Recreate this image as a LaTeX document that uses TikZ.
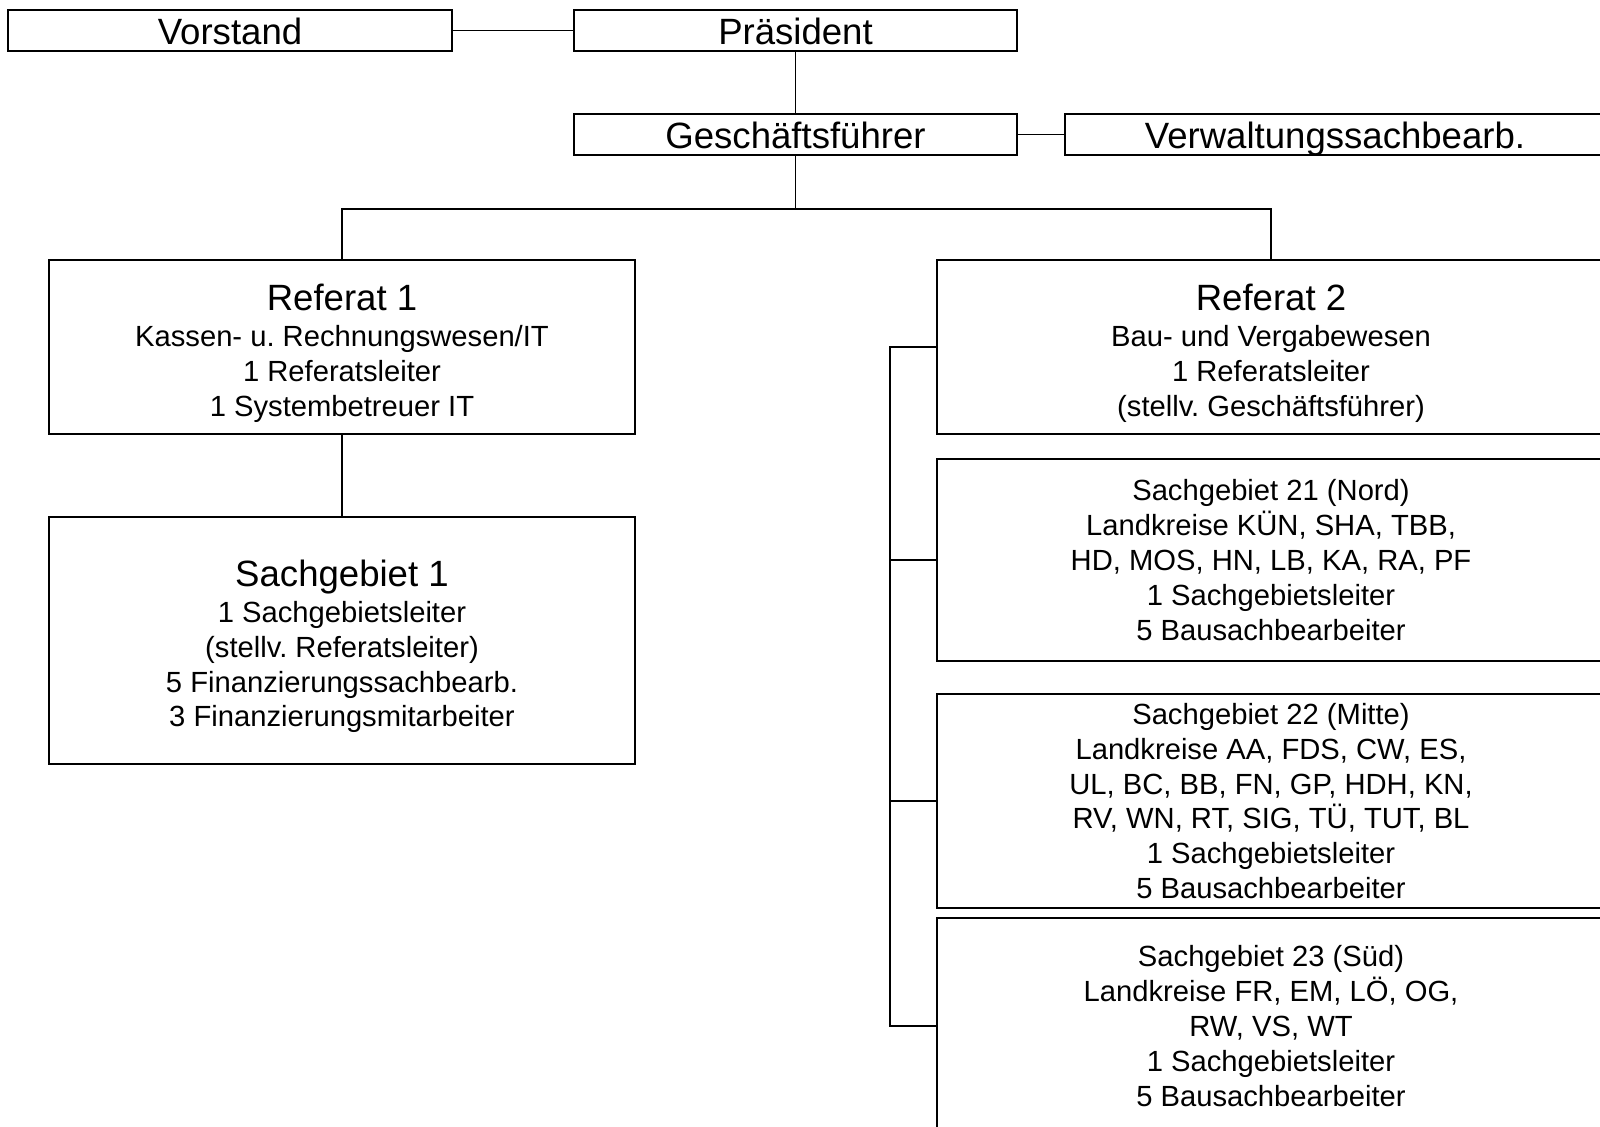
\documentclass[tikz,border=0pt]{standalone}
\usepackage{fontspec}
\setmainfont{Liberation Sans}
\frenchspacing

\begin{document}
\begin{tikzpicture}[x=0.01cm, y=-0.01cm,
        box/.style={draw, line width=0.6pt, inner sep=0pt, align=center,
            font=\fontsize{8.3pt}{9.9pt}\selectfont},
        topbox/.style={box, minimum height=0.41cm, text height=7.7pt, text depth=0pt,
            font=\fontsize{10.4pt}{12pt}\selectfont},
        link/.style={line width=0.4pt}]
    \useasboundingbox (0,0) rectangle (1600,1126);

    % Leitung
    \node[topbox, minimum width=4.44cm] (vorstand) at (230,30.5) {Vorstand};
    \node[topbox, minimum width=4.43cm] (praes) at (795.5,30.5) {Präsident};
    \node[topbox, minimum width=4.43cm] (gf) at (795.5,134.5) {Geschäftsführer};
    \node[topbox, minimum width=5.40cm] (verw) at (1335,134.5) {Verwaltungssachbearb.};

    % Referat 1
    \node[box, minimum width=5.86cm, minimum height=1.74cm] (ref1) at (342,347)
        {\rule{0pt}{11pt}{\fontsize{10.4pt}{12pt}\selectfont Referat 1}\\[0.3pt]
         Kassen- u. Rechnungswesen/IT\\
         1 Referatsleiter\\
         1 Systembetreuer IT};
    \node[box, minimum width=5.86cm, minimum height=2.47cm] (sg1) at (342,640.5)
        {\rule{0pt}{11pt}{\fontsize{10.4pt}{12pt}\selectfont Sachgebiet 1}\\[0.3pt]
         1 Sachgebietsleiter\\
         (stellv. Referatsleiter)\\
         5 Finanzierungssachbearb.\\
         3 Finanzierungsmitarbeiter};

    % Referat 2
    \node[box, minimum width=6.68cm, minimum height=1.74cm] (ref2) at (1271,347)
        {\rule{0pt}{11pt}{\fontsize{10.4pt}{12pt}\selectfont Referat 2}\\[0.3pt]
         Bau- und Vergabewesen\\
         1 Referatsleiter\\
         (stellv. Geschäftsführer)};
    \node[box, minimum width=6.68cm, minimum height=2.02cm] (sg21) at (1271,560)
        {Sachgebiet 21 (Nord)\\
         Landkreise KÜN, SHA, TBB,\\
         HD, MOS, HN, LB, KA, RA, PF\\
         1 Sachgebietsleiter\\
         5 Bausachbearbeiter};
    \node[box, minimum width=6.68cm, minimum height=2.14cm] (sg22) at (1271,801)
        {Sachgebiet 22 (Mitte)\\
         Landkreise AA, FDS, CW, ES,\\
         UL, BC, BB, FN, GP, HDH, KN,\\
         RV, WN, RT, SIG, TÜ, TUT, BL\\
         1 Sachgebietsleiter\\
         5 Bausachbearbeiter};
    \node[box, minimum width=6.68cm, minimum height=2.16cm] (sg23) at (1271,1026)
        {Sachgebiet 23 (Süd)\\
         Landkreise FR, EM, LÖ, OG,\\
         RW, VS, WT\\
         1 Sachgebietsleiter\\
         5 Bausachbearbeiter};

    % Verbindungen
    \coordinate (split) at (795.5,209);
    \coordinate (rail) at (890,347);
    \draw[link] (vorstand) -- (praes);
    \draw[link] (praes) -- (gf);
    \draw[link] (gf) -- (verw);
    \draw[link] (gf) -- (split) -| (ref1.north);
    \draw[link] (split) -| (ref2.north);
    \draw[link] (ref1) -- (sg1);
    \draw[link] (ref2.west) -- (rail) |- (sg23.west);
    \draw[link] (rail |- sg21.west) -- (sg21.west);
    \draw[link] (rail |- sg22.west) -- (sg22.west);
\end{tikzpicture}
\end{document}
